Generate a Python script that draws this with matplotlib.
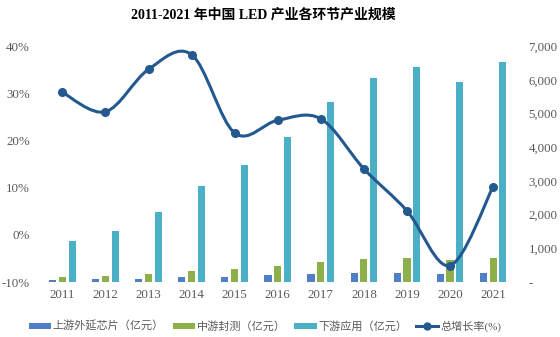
import numpy as np
import matplotlib.pyplot as plt
from matplotlib.path import Path
from matplotlib.patches import PathPatch
from matplotlib.lines import Line2D
from matplotlib.ticker import FuncFormatter

plt.rcParams['font.family'] = ['Liberation Serif', 'Noto Sans CJK SC']

years = ['2011', '2012', '2013', '2014', '2015', '2016', '2017', '2018', '2019', '2020', '2021']
upstream = [50, 80, 100, 140, 160, 200, 230, 270, 270, 250, 270]
midstream = [150, 190, 240, 330, 390, 475, 600, 675, 705, 650, 720]
downstream = [1220, 1510, 2070, 2860, 3470, 4300, 5330, 6070, 6370, 5930, 6540]
growth = [30.2, 26.1, 35.1, 38.2, 21.6, 24.3, 24.6, 14.0, 5.1, -6.5, 10.2]

c_up = '#4F7FC4'
c_mid = '#8DB04A'
c_down = '#4BAFC8'
c_line = '#24598F'
gray = '#595959'

fig = plt.figure(figsize=(5.6, 3.37), dpi=100)
ax = fig.add_axes([0.073, 0.163, 0.846, 0.700])
ax2 = ax.twinx()

x = np.arange(len(years))
w = 0.165
off = 0.227
ax2.bar(x - off, upstream, w, color=c_up, label='上游外延芯片（亿元）')
ax2.bar(x, midstream, w, color=c_mid, label='中游封测（亿元）')
ax2.bar(x + off, downstream, w, color=c_down, label='下游应用（亿元）')
ax2.set_ylim(0, 7000)
ax2.set_yticks(range(0, 7001, 1000))
ax2.yaxis.set_major_formatter(FuncFormatter(lambda v, p: '-' if v == 0 else f'{int(v):,}'))

# smooth line through the points (Catmull-Rom as Bezier segments)
pts = np.column_stack([x, growth]).astype(float)
verts = [pts[0]]
codes = [Path.MOVETO]
for i in range(len(pts) - 1):
    p0 = pts[i - 1] if i > 0 else pts[i]
    p1 = pts[i]
    p2 = pts[i + 1]
    p3 = pts[i + 2] if i + 2 < len(pts) else pts[i + 1]
    c1 = p1 + (p2 - p0) / 6
    c2 = p2 - (p3 - p1) / 6
    verts += [c1, c2, p2]
    codes += [Path.CURVE4] * 3
ax.add_patch(PathPatch(Path(verts, codes), fill=False, edgecolor=c_line, lw=2.2, zorder=5))
ax.plot(x, growth, 'o', color=c_line, ms=5.5, zorder=6)
ax.set_ylim(-10, 40)
ax.set_yticks(range(-10, 41, 10))
ax.yaxis.set_major_formatter(FuncFormatter(lambda v, p: f'{int(v)}%'))
ax.set_xlim(-0.5, len(years) - 0.5)
ax.set_xticks(x)
ax.set_xticklabels(years)

ax.set_zorder(ax2.get_zorder() + 1)
ax.patch.set_visible(False)

for a in (ax, ax2):
    for s in a.spines.values():
        s.set_visible(False)
    a.tick_params(length=0, labelsize=9.3, colors=gray)
ax.tick_params(axis='y', pad=8)
ax2.tick_params(axis='y', pad=10)
ax.tick_params(axis='x', pad=5)

fig.suptitle('2011-2021 年中国 LED 产业各环节产业规模', x=0.47, y=0.975,
             fontsize=10, fontweight='bold')

handles, labels = ax2.get_legend_handles_labels()
handles.append(Line2D([], [], color=c_line, lw=2.2, marker='o', ms=5))
labels.append('总增长率(%)')
fig.legend(handles, labels, loc='center', bbox_to_anchor=(0.473, 0.032), ncol=4,
           frameon=False, fontsize=8, handlelength=2.0, handleheight=0.5,
           handletextpad=0.15, columnspacing=0.8, labelcolor=gray)

fig.savefig('out.png', dpi=100)
